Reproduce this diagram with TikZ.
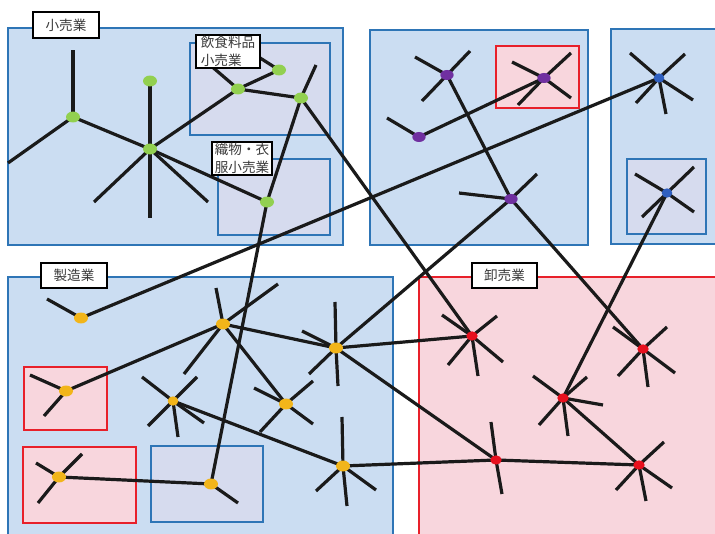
\documentclass[tikz,border=0pt]{standalone}
\usepackage{fontspec}
\newfontfamily\jp{Noto Sans CJK JP}
\usetikzlibrary{shapes.geometric}
\definecolor{boxblue}{HTML}{2E75B6}
\definecolor{fillblue}{HTML}{CBDDF2}
\definecolor{filllav}{HTML}{D6DBEE}
\definecolor{boxred}{HTML}{E8202A}
\definecolor{fillpink}{HTML}{F8D6DD}
\definecolor{dgreen}{HTML}{92D050}
\definecolor{dyellow}{HTML}{F2B51A}
\definecolor{dpurple}{HTML}{7030A0}
\definecolor{dblue}{HTML}{2F5FBF}
\definecolor{dred}{HTML}{E8101E}
\definecolor{ink}{HTML}{1A1A1A}
\definecolor{lbltext}{HTML}{3A3A3A}
\pgfdeclarelayer{back}
\pgfdeclarelayer{mid}
\pgfsetlayers{back,mid,main}
\tikzset{
  bluebox/.style={draw=boxblue, line width=1.5pt, fill=fillblue},
  lavbox/.style={draw=boxblue, line width=1.5pt, fill=filllav},
  redbox/.style={draw=boxred, line width=1.5pt, fill=fillpink},
  edge/.style={draw=ink, line width=2.4pt},
  dot/.style={ellipse, inner sep=0pt, minimum width=10.5pt, minimum height=8.2pt},
  gdot/.style={dot, fill=dgreen},
  ydot/.style={dot, fill=dyellow},
  pdot/.style={dot, fill=dpurple, minimum width=10pt, minimum height=7.5pt},
  bdot/.style={dot, fill=dblue, minimum width=8pt, minimum height=7pt},
  rdot/.style={dot, fill=dred, minimum width=8.5pt, minimum height=7pt},
  lbl/.style={draw=black, line width=1.6pt, fill=white, inner sep=1pt,
    font=\jp\fontsize{10.2}{13}\selectfont, text=lbltext, align=left}
}
\begin{document}
\begin{tikzpicture}[x=0.75pt,y=-0.75pt]
\useasboundingbox (0,0) rectangle (715,534);
\clip (0,0) rectangle (715,534);

% sector boxes and sub-sector boxes
\begin{pgfonlayer}{back}
  \path[bluebox] (8,28) rectangle (343,245);
  \path[bluebox] (370,30) rectangle (588,245);
  \path[bluebox] (611,29) rectangle (725,244);
  \path[bluebox] (8,277) rectangle (393,545);
  \path[redbox] (419,277) rectangle (725,545);
  \path[lavbox] (190,43) rectangle (330,135);
  \path[lavbox] (218,159) rectangle (330,235);
  \path[redbox] (496,46) rectangle (579,108);
  \path[lavbox] (627,159) rectangle (706,234);
  \path[redbox] (24,367) rectangle (107,430);
  \path[redbox] (23,447) rectangle (136,523);
  \path[lavbox] (151,446) rectangle (263,522);
\end{pgfonlayer}

% firms
\node[gdot] (g1) at (73,117) {};
\node[gdot] (g2) at (150,149) {};
\node[gdot] (g3) at (150,81) {};
\node[gdot] (g4) at (238,89) {};
\node[gdot] (g5) at (279,70) {};
\node[gdot] (g6) at (267,202) {};
\node[gdot] (g7) at (301,98) {};

\node[pdot] (p1) at (447,75) {};
\node[pdot] (p2) at (544,78) {};
\node[pdot] (p3) at (419,137) {};
\node[pdot] (p4) at (511,199) {};

\node[bdot] (b1) at (659,78) {};
\node[bdot] (b2) at (667,193) {};

\node[ydot] (y1) at (81,318) {};
\node[ydot] (y2) at (223,324) {};
\node[ydot] (y3) at (66,391) {};
\node[ydot] (y4) at (336,348) {};
\node[ydot] (y5) at (286,404) {};
\node[ydot, minimum width=8pt, minimum height=7pt] (y6) at (173,401) {};
\node[ydot] (y7) at (343,466) {};
\node[ydot] (y8) at (59,477) {};
\node[ydot] (y9) at (211,484) {};

\node[rdot] (r1) at (472,336) {};
\node[rdot] (r2) at (643,349) {};
\node[rdot] (r3) at (563,398) {};
\node[rdot] (r4) at (496,460) {};
\node[rdot] (r5) at (639,465) {};

\begin{pgfonlayer}{mid}
  % transaction links
  \foreach \a/\b in {g1/g2, g2/g3, g2/g4, g2/g6, g4/g5, g4/g7, g7/g6, g6/y9,
                     g7/r1, p1/p4, p2/p3, p4/y4, p4/r2, b1/y1, b2/r3,
                     y2/y3, y2/y5, y2/y4, y4/r1, y4/r4, y6/y7, y7/r4, y8/y9,
                     r3/r5, r4/r5}
    \draw[edge] (\a.center) -- (\b.center);
  % links to firms outside the view
  \draw[edge, line width=3pt] (g1.center) -- ++(0,-67);
  \foreach \n/\dx/\dy in {
      g1/-65/46, g2/0/69, g2/-56/53, g2/58/53, g4/-28/-24, g5/-22/-14, g7/15/-33,
      p1/-32/-18, p1/23/-24, p1/-25/26,
      p2/-32/-16, p2/27/-25, p2/27/20, p2/-26/27,
      p3/-32/-19, p4/-52/-6, p4/26/-25,
      b1/-29/-25, b1/26/-24, b1/-23/25, b1/34/22, b1/7/36,
      b2/-32/-19, b2/27/-26, b2/-25/24, b2/27/19,
      y1/-34/-19, y2/-7/-36, y2/55/-40, y2/-39/50,
      y3/-36/-16, y3/-22/25,
      y4/-1/-46, y4/-34/-17, y4/-27/26, y4/2/38,
      y5/-32/-16, y5/27/-23, y5/27/20, y5/-26/28,
      y6/-31/-24, y6/24/-24, y6/-25/25, y6/5/36, y6/31/22,
      y7/-1/-49, y7/-27/25, y7/4/40, y7/33/24,
      y8/-23/-14, y8/23/-23, y8/-21/26, y9/27/19,
      r1/-30/-21, r1/25/-20, r1/-24/29, r1/31/26, r1/6/40,
      r2/-30/-22, r2/24/-22, r2/-25/27, r2/32/24, r2/5/38,
      r3/-30/-22, r3/24/-21, r3/40/7, r3/-24/27, r3/5/38,
      r4/-5/-38, r4/6/34,
      r5/25/-23, r5/-23/25, r5/33/23, r5/7/36}
    \draw[edge] (\n.center) -- ++(\dx,\dy);
\end{pgfonlayer}

% sector labels
\node[lbl, minimum width=49.5pt, minimum height=19.5pt] (lretail) at (66,25) {小売業};
\node[lbl, minimum width=48pt, minimum height=24.75pt] (lfood) at (228,51.5) {飲食料品\\小売業};
\node[lbl, minimum width=45pt, minimum height=24.75pt] (lcloth) at (242,158.5) {織物・衣\\服小売業};
\node[lbl, minimum width=49.5pt, minimum height=18.75pt] (lmfg) at (74,275.5) {製造業};
\node[lbl, minimum width=48.75pt, minimum height=18.75pt] (lwhole) at (504.5,275.5) {卸売業};
\end{tikzpicture}
\end{document}
